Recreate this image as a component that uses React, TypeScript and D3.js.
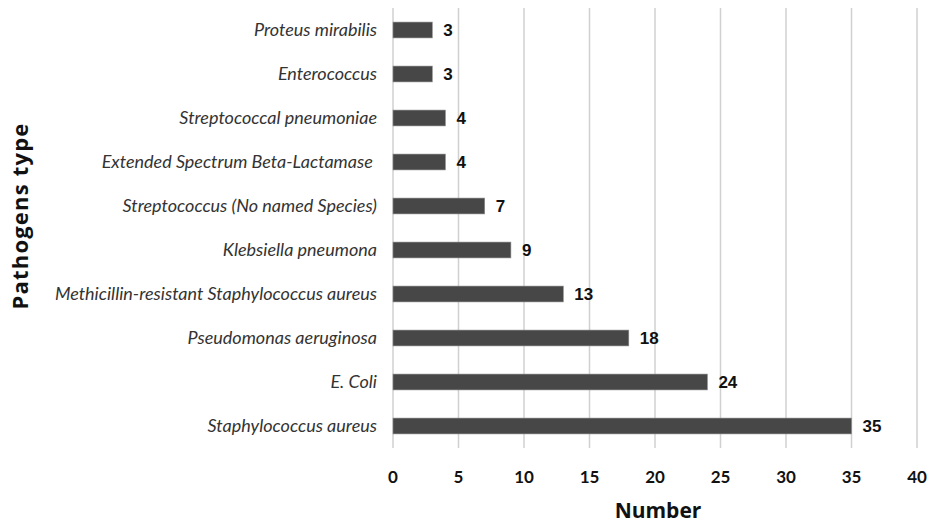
import React from 'react'
import { scaleLinear, scaleBand } from 'd3'

const pathogens = [
  'Proteus mirabilis',
  'Enterococcus',
  'Streptococcal pneumoniae',
  'Extended Spectrum Beta-Lactamase ',
  'Streptococcus (No named Species)',
  'Klebsiella pneumona',
  'Methicillin-resistant Staphylococcus aureus',
  'Pseudomonas aeruginosa',
  'E. Coli',
  'Staphylococcus aureus',
]
const counts = [3, 3, 4, 4, 7, 9, 13, 18, 24, 35]
const xTicks = [0, 5, 10, 15, 20, 25, 30, 35, 40]

const App = () => {
  const width = 930
  const height = 525
  const margin = { top: 8, right: 13, bottom: 77, left: 393 }
  const innerWidth = width - margin.left - margin.right
  const innerHeight = height - margin.top - margin.bottom

  const xScale = scaleLinear().domain([0, 40]).range([0, 524])
  const yScale = scaleBand().domain(pathogens).range([0, innerHeight]).paddingInner(0.64).paddingOuter(0.32)

  return (
    <svg width={width} height={height} style={{ position: 'absolute', left: 0, top: 0, background: 'white' }}>
      <g transform={`translate(${margin.left},${margin.top})`}>
        {xTicks.map(t => (
          <g key={t} transform={`translate(${xScale(t)},0)`}>
            <line y1={0} y2={innerHeight} stroke='#d0d0d0' strokeWidth={1.5} />
            <text y={innerHeight + 35} textAnchor='middle' fontFamily='Lato' fontWeight='bold' fontSize={17} fill='#111'>{t}</text>
          </g>
        ))}
        {pathogens.map((p, i) => (
          <g key={p}>
            <rect x={0} y={yScale(p)} width={xScale(counts[i])} height={yScale.bandwidth()} fill='#474747' stroke='#8a8a8a' strokeWidth={0.6} />
            <text x={-16} y={yScale(p)! + yScale.bandwidth() / 2} dy='0.35em' textAnchor='end'
              fontFamily='Lato' fontStyle='italic' fontSize={18} fill='#333' style={{ whiteSpace: 'pre' }}>{p}</text>
            <text x={xScale(counts[i]) + 11} y={yScale(p)! + yScale.bandwidth() / 2} dy='0.36em'
              fontFamily='Liberation Sans' fontWeight='bold' fontSize={17} fill='#111'>{counts[i]}</text>
          </g>
        ))}
        <text x={265} y={innerHeight + 70} textAnchor='middle' fontFamily='Open Sans' fontWeight='bold' fontSize={21} fill='#111'>Number</text>
      </g>
      <text transform='translate(28,216) rotate(-90)' textAnchor='middle' fontFamily='Open Sans' fontWeight='bold' fontSize={22} letterSpacing={1.2} fill='#111'>Pathogens type</text>
    </svg>
  )
}

export default App
